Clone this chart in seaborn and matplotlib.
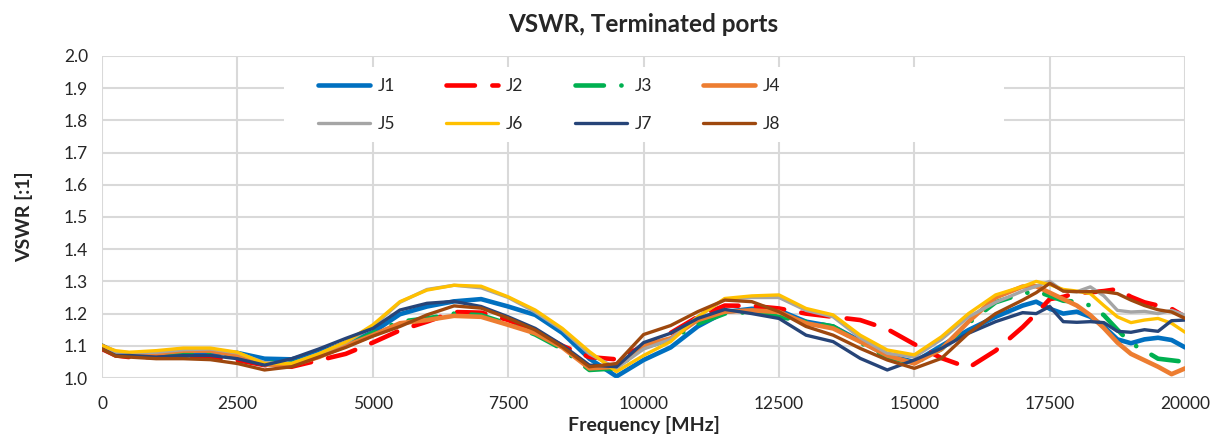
import numpy as np
import pandas as pd
import matplotlib.pyplot as plt
import seaborn as sns
from matplotlib.patches import Rectangle

# =========================
# DATA
# =========================
freq = [0, 250, 500, 1000, 1500, 2000, 2500, 3000, 3500, 4000, 4500, 5000,
        5500, 6000, 6500, 7000, 7500, 8000, 8500, 9000, 9500, 10000, 10500,
        11000, 11500, 12000, 12500, 13000, 13500, 14000, 14500, 15000, 15500,
        16000, 16500, 17000, 17250, 17500, 17750, 18000, 18250, 18500, 18750,
        19000, 19250, 19500, 19750, 20000]

j1 = [1.10, 1.08, 1.075, 1.063, 1.068, 1.078, 1.078, 1.06, 1.058, 1.08, 1.108, 1.142,
      1.198, 1.222, 1.238, 1.245, 1.222, 1.196, 1.14, 1.06, 1.005, 1.056, 1.095,
      1.16, 1.205, 1.215, 1.21, 1.175, 1.16, 1.115, 1.07, 1.05, 1.10,
      1.149, 1.19, 1.225, 1.237, 1.215, 1.20, 1.206, 1.19, 1.16, 1.12,
      1.108, 1.12, 1.125, 1.118, 1.095]
j2 = [1.09, 1.07, 1.065, 1.065, 1.067, 1.063, 1.055, 1.04, 1.035, 1.055, 1.075, 1.11,
      1.148, 1.175, 1.205, 1.203, 1.18, 1.145, 1.10, 1.065, 1.058, 1.10, 1.14,
      1.19, 1.225, 1.224, 1.216, 1.20, 1.19, 1.18, 1.152, 1.105, 1.062,
      1.032, 1.085, 1.158, 1.20, 1.245, 1.252, 1.265, 1.266, 1.27, 1.276,
      1.252, 1.235, 1.225, 1.215, 1.19]
j3 = [1.10, 1.075, 1.072, 1.07, 1.075, 1.075, 1.065, 1.05, 1.045, 1.07, 1.10, 1.14,
      1.175, 1.185, 1.20, 1.195, 1.168, 1.135, 1.09, 1.025, 1.03, 1.095, 1.12,
      1.168, 1.20, 1.205, 1.19, 1.175, 1.16, 1.11, 1.065, 1.045, 1.09,
      1.17, 1.235, 1.262, 1.27, 1.255, 1.24, 1.237, 1.225, 1.195, 1.15,
      1.108, 1.085, 1.06, 1.055, 1.05]
j4 = [1.10, 1.08, 1.077, 1.076, 1.085, 1.085, 1.07, 1.042, 1.04, 1.065, 1.10, 1.133,
      1.17, 1.18, 1.193, 1.19, 1.165, 1.139, 1.095, 1.03, 1.035, 1.102, 1.123,
      1.18, 1.206, 1.21, 1.205, 1.17, 1.154, 1.113, 1.07, 1.045, 1.09,
      1.175, 1.25, 1.284, 1.285, 1.265, 1.245, 1.225, 1.195, 1.155, 1.11,
      1.075, 1.055, 1.035, 1.012, 1.03]
j5 = [1.10, 1.08, 1.078, 1.08, 1.088, 1.09, 1.078, 1.048, 1.045, 1.075, 1.11, 1.16,
      1.235, 1.275, 1.288, 1.28, 1.25, 1.205, 1.15, 1.075, 1.03, 1.09, 1.12,
      1.19, 1.245, 1.25, 1.25, 1.21, 1.19, 1.125, 1.077, 1.065, 1.12,
      1.19, 1.235, 1.27, 1.285, 1.30, 1.27, 1.268, 1.283, 1.255, 1.21,
      1.205, 1.207, 1.20, 1.21, 1.195]
j6 = [1.10, 1.085, 1.08, 1.085, 1.093, 1.093, 1.08, 1.045, 1.045, 1.075, 1.112, 1.165,
      1.237, 1.273, 1.288, 1.285, 1.252, 1.211, 1.154, 1.082, 1.02, 1.07, 1.113,
      1.19, 1.247, 1.255, 1.258, 1.216, 1.196, 1.133, 1.087, 1.072, 1.128,
      1.20, 1.258, 1.284, 1.30, 1.29, 1.275, 1.27, 1.262, 1.225, 1.19,
      1.172, 1.18, 1.185, 1.17, 1.142]
j7 = [1.09, 1.07, 1.07, 1.065, 1.07, 1.07, 1.06, 1.04, 1.06, 1.09, 1.123, 1.154,
      1.211, 1.232, 1.238, 1.222, 1.19, 1.154, 1.102, 1.04, 1.035, 1.11, 1.139,
      1.185, 1.213, 1.20, 1.185, 1.133, 1.113, 1.061, 1.025, 1.056, 1.092,
      1.139, 1.175, 1.203, 1.20, 1.222, 1.175, 1.173, 1.175, 1.172, 1.145,
      1.142, 1.15, 1.145, 1.178, 1.18]
j8 = [1.09, 1.068, 1.065, 1.06, 1.06, 1.057, 1.045, 1.025, 1.035, 1.065, 1.095, 1.13,
      1.16, 1.196, 1.224, 1.217, 1.186, 1.149, 1.097, 1.035, 1.045, 1.135, 1.163,
      1.206, 1.242, 1.237, 1.206, 1.16, 1.133, 1.092, 1.056, 1.03, 1.061,
      1.139, 1.20, 1.242, 1.265, 1.294, 1.27, 1.268, 1.268, 1.268, 1.262,
      1.242, 1.225, 1.212, 1.205, 1.185]

ports = ["J1", "J2", "J3", "J4", "J5", "J6", "J7", "J8"]
series = [j1, j2, j3, j4, j5, j6, j7, j8]
colors = ["#0070C0", "#FF0000", "#00B050", "#ED7D31",
          "#A5A5A5", "#FFC000", "#264478", "#9E480E"]
widths = [3.3, 3.3, 3.3, 3.3, 2.4, 2.4, 2.4, 2.4]
styles = ["-", (0, (6.2, 3.8)), (0, (6.2, 3.8, 0.05, 3.8)), "-", "-", "-", "-", "-"]

df = pd.DataFrame({
    "Frequency": freq * len(ports),
    "VSWR": np.concatenate(series),
    "Port": np.repeat(ports, len(freq)),
})

# =========================
# STYLE
# =========================
sns.set_theme(style="white")
plt.rcParams["font.family"] = ["Lato", "DejaVu Sans"]
GRID = "#D9D9D9"
TXT = "#262626"

fig = plt.figure(figsize=(12.15, 4.44), dpi=100)
ax = fig.add_axes([0.084, 0.1486, 0.8914, 0.7254])

for port, col, lw, ls in zip(ports, colors, widths, styles):
    sns.lineplot(data=df[df["Port"] == port], x="Frequency", y="VSWR",
                 color=col, linewidth=lw, linestyle=ls, label=port,
                 estimator=None, sort=False, ax=ax,
                 solid_capstyle="round", dash_capstyle="round",
                 solid_joinstyle="round")

# =========================
# AXES
# =========================
ax.set_xlim(0, 20000)
ax.set_ylim(1.0, 2.0)
ax.set_xticks(np.arange(0, 20001, 2500))
ax.set_yticks(np.round(np.arange(1.0, 2.01, 0.1), 1))
ax.set_yticklabels([f"{v:.1f}" for v in np.arange(1.0, 2.01, 0.1)])
ax.grid(True, color=GRID, linewidth=1.5)
ax.set_axisbelow(True)
for s in ax.spines.values():
    s.set_visible(False)
ax.tick_params(axis="both", colors=GRID, length=5, width=1.5,
               labelcolor=TXT, labelsize=12.5, direction="out")
ax.tick_params(axis="y", pad=5)
ax.tick_params(axis="x", pad=8)

ax.set_title("VSWR, Terminated ports", fontsize=17.5, fontweight="bold",
             color=TXT, pad=17)
ax.set_xlabel("Frequency [MHz]", fontsize=14, fontweight="bold", color=TXT,
              labelpad=3)
ax.set_ylabel("VSWR [:1]", fontsize=14, fontweight="bold", color=TXT,
              labelpad=22)

# white legend area like the original
ax.add_patch(Rectangle((0.168, 0.733), 0.665, 0.233, transform=ax.transAxes,
                       facecolor="white", edgecolor="none", zorder=1.5))

# row-wise legend order (matplotlib fills columns first)
handles, labels = ax.get_legend_handles_labels()
order = [0, 4, 1, 5, 2, 6, 3, 7]
leg = ax.legend([handles[i] for i in order], [labels[i] for i in order],
                loc="upper left", bbox_to_anchor=(0.199, 0.932), ncol=4,
                frameon=False, fontsize=12.5, handlelength=3.0,
                handletextpad=0.45, columnspacing=2.95, labelspacing=1.28,
                borderpad=0, borderaxespad=0)
for t in leg.get_texts():
    t.set_color(TXT)

plt.savefig("out.png", dpi=100)
plt.close()
